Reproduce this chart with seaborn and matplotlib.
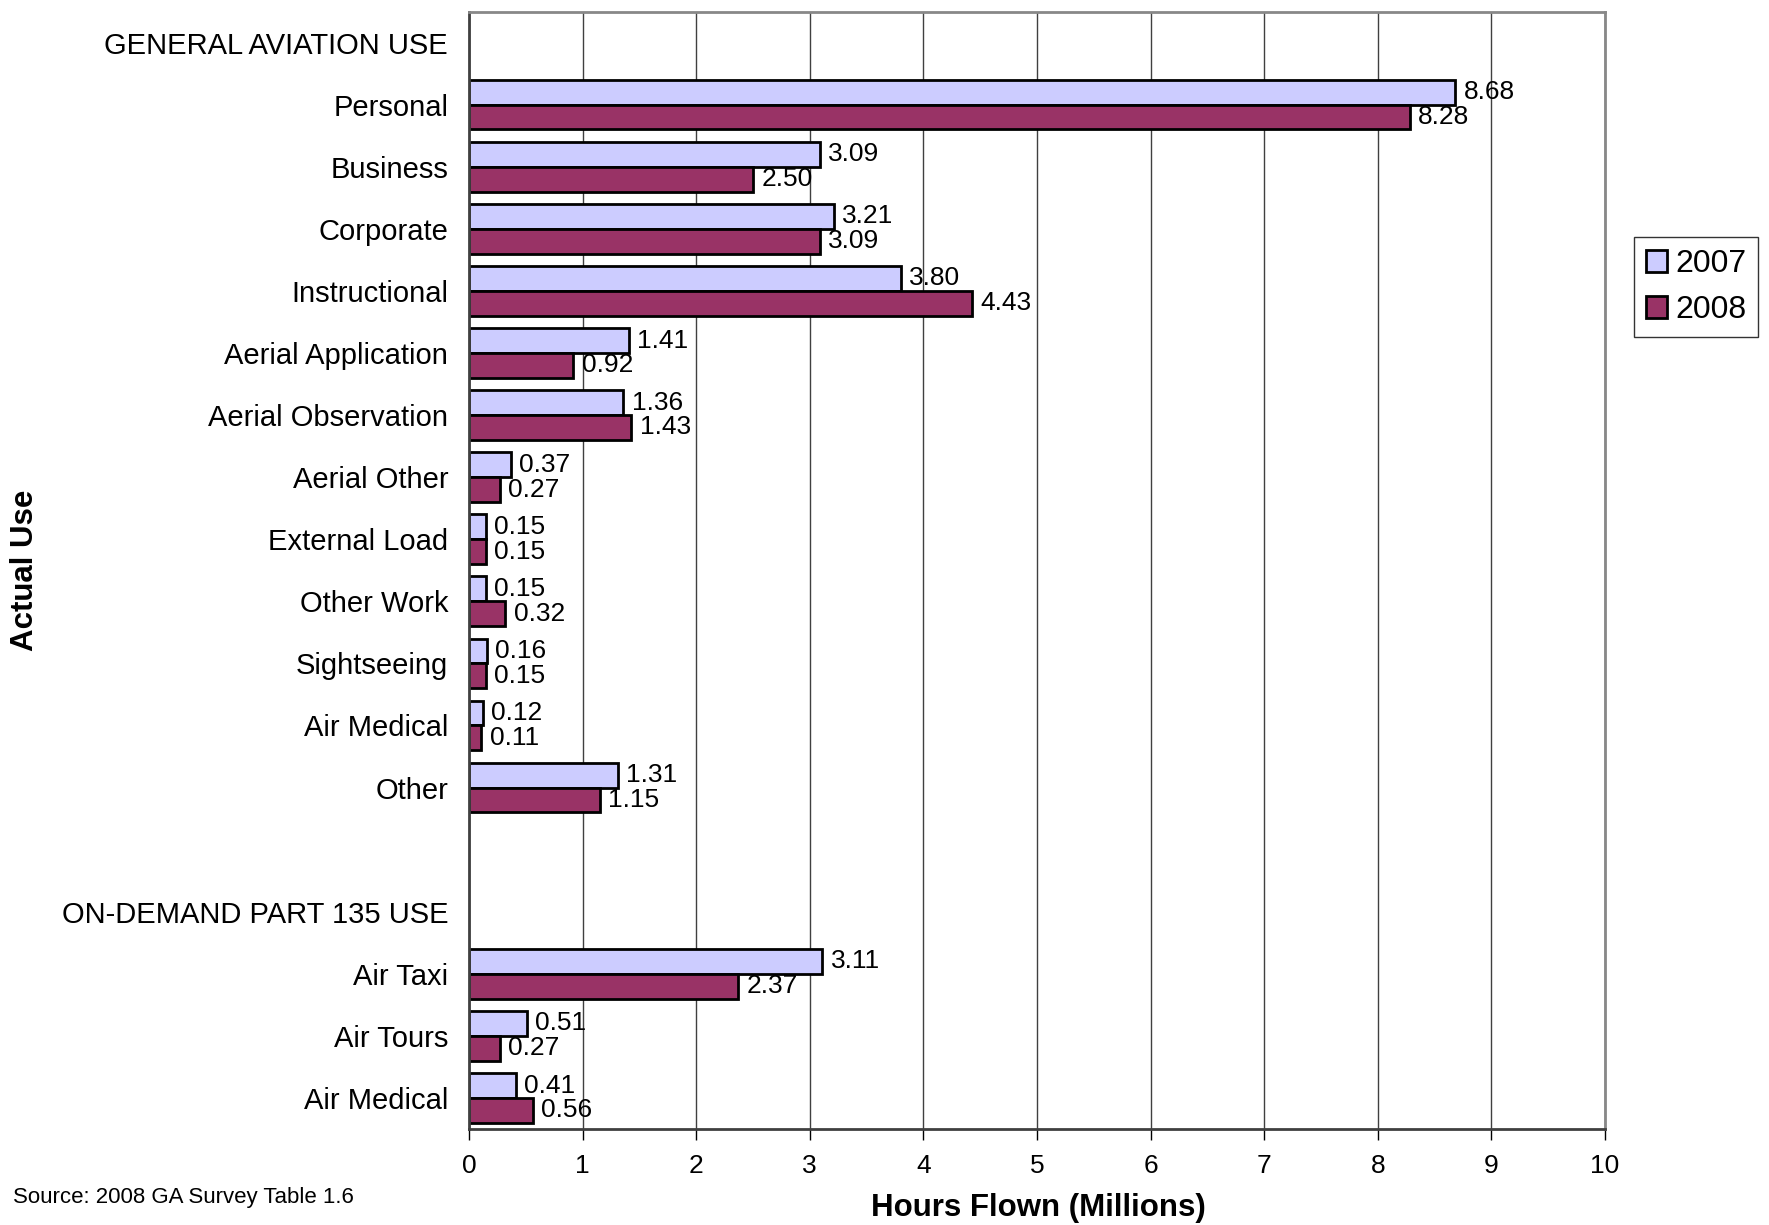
import seaborn as sns
import matplotlib.pyplot as plt
import pandas as pd

# Hours flown (millions) by actual use
ga_uses = ['Personal', 'Business', 'Corporate', 'Instructional', 'Aerial Application',
           'Aerial Observation', 'Aerial Other', 'External Load', 'Other Work',
           'Sightseeing', 'Air Medical', 'Other']
ga_2007 = [8.68, 3.09, 3.21, 3.80, 1.41, 1.36, 0.37, 0.15, 0.15, 0.16, 0.12, 1.31]
ga_2008 = [8.28, 2.50, 3.09, 4.43, 0.92, 1.43, 0.27, 0.15, 0.32, 0.15, 0.11, 1.15]

p135_uses = ['Air Taxi', 'Air Tours', 'Air Medical']
p135_2007 = [3.11, 0.51, 0.41]
p135_2008 = [2.37, 0.27, 0.56]

years = ['2007', '2008']
ga_header = 'GENERAL AVIATION USE'
p135_header = 'ON-DEMAND PART 135 USE'
x_ticks = list(range(0, 11))

# unique row keys (Air Medical appears in both groups)
ga_keys = ['GA ' + u for u in ga_uses]
p135_keys = ['135 ' + u for u in p135_uses]
order = ['hdr_ga'] + ga_keys + ['blank', 'hdr_135'] + p135_keys
row_labels = [ga_header] + ga_uses + ['', p135_header] + p135_uses

rows = []
for keys, v07, v08 in [(ga_keys, ga_2007, ga_2008), (p135_keys, p135_2007, p135_2008)]:
    for k, a, b in zip(keys, v07, v08):
        rows.append({'use': k, 'year': '2007', 'hours': a})
        rows.append({'use': k, 'year': '2008', 'hours': b})
df = pd.DataFrame(rows)

sns.set_style('white')
plt.rcParams['font.family'] = ['Liberation Sans', 'DejaVu Sans']
plt.rcParams['text.color'] = 'black'
plt.rcParams['xtick.color'] = 'black'
plt.rcParams['ytick.color'] = 'black'

fig = plt.figure(figsize=(17.69, 12.25), dpi=100)
ax = fig.add_axes([0.2651, 0.0784, 0.6422, 0.9122])

sns.barplot(data=df, x='hours', y='use', hue='year', order=order, hue_order=years,
            palette=['#CCCCFF', '#993366'], edgecolor='black', linewidth=2,
            saturation=1, width=0.8, orient='h', ax=ax)

for c in ax.containers:
    ax.bar_label(c, fmt='%.2f', padding=6, fontsize=19, color='black')

ax.set_xlim(0, 10)
ax.set_xticks(x_ticks)
ax.set_yticks(range(len(order)))
ax.set_yticklabels(row_labels, fontsize=21)
ax.tick_params(axis='y', length=0, pad=15, labelcolor='black')
ax.tick_params(axis='x', length=8, width=1, color='black', labelsize=19, pad=10,
               direction='out', bottom=True, labelcolor='black')
ax.xaxis.grid(True, color='#404040', linewidth=1)
ax.yaxis.grid(False)
ax.set_axisbelow(True)
for side in ['top', 'right']:
    ax.spines[side].set_color('#888888')
    ax.spines[side].set_linewidth(2)
ax.spines['left'].set_color('#404040')
ax.spines['bottom'].set_color('#404040')
ax.spines['left'].set_linewidth(2)
ax.spines['bottom'].set_linewidth(2)

ax.set_xlabel('')
ax.set_ylabel('')

handles, labels = ax.get_legend_handles_labels()
ax.get_legend().remove()
leg = fig.legend(handles, labels, loc='upper left', bbox_to_anchor=(0.9237, 0.8065),
                 fontsize=23, frameon=True, fancybox=False, edgecolor='black',
                 handlelength=0.65, handleheight=0.65, handletextpad=0.25,
                 borderpad=0.38, labelspacing=0.5, borderaxespad=0)
leg.get_frame().set_linewidth(1)
for t in leg.get_texts():
    t.set_color('black')

fig.text(1038 / 1769, 1 - 1208 / 1225, 'Hours Flown (Millions)', fontsize=22.5,
         fontweight='bold', ha='center', va='center')
fig.text(25 / 1769, 1 - 570 / 1225, 'Actual Use', fontsize=22.5, fontweight='bold',
         rotation=90, ha='center', va='center')
fig.text(13 / 1769, 1 - 1198 / 1225, 'Source: 2008 GA Survey Table 1.6', fontsize=16,
         ha='left', va='center')

fig.savefig('out.png', dpi=100)
